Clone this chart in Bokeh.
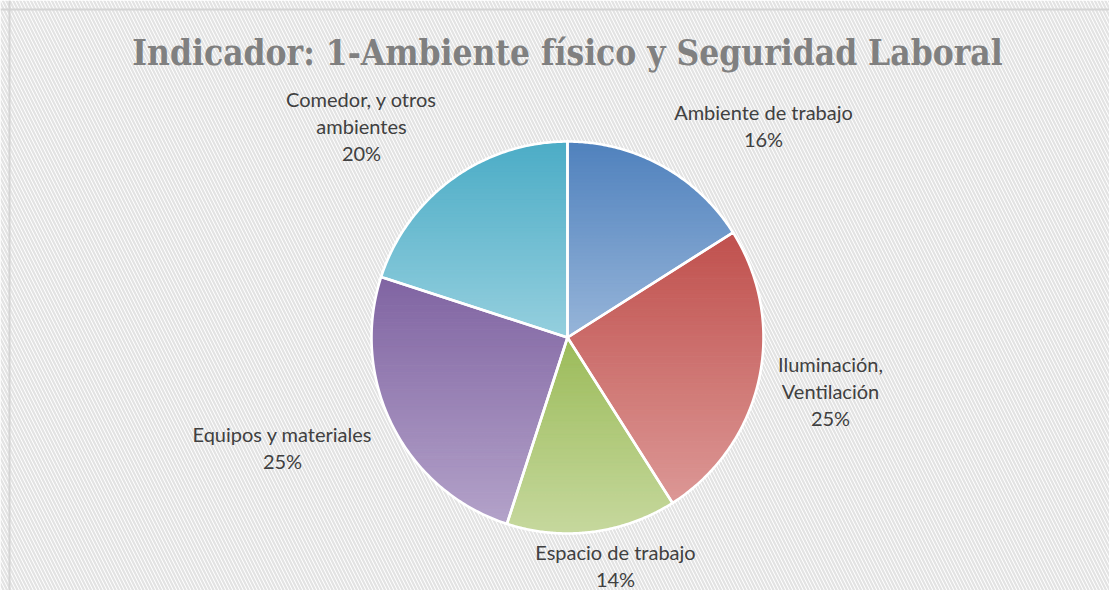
import numpy as np
from bokeh.plotting import figure
from bokeh.models import Range1d, Span
from bokeh.core.properties import value
from bokeh.embed import file_html
from bokeh.resources import INLINE

# ---- data ----
categories = ["Ambiente de trabajo", "Iluminación,\nVentilación", "Espacio de trabajo",
              "Equipos y materiales", "Comedor, y otros\nambientes"]
values = [16, 25, 14, 25, 20]
top_colors = ["#4F81BD", "#C0504D", "#9BBB59", "#8064A2", "#4BACC6"]
bottom_colors = ["#97B5D9", "#DC9896", "#C6D89D", "#B3A2C9", "#95CFDE"]
title_text = "Indicador: 1-Ambiente físico y Seguridad Laboral"

# ---- layout (screen pixel coordinates) ----
W, H = 1109, 590
cx, cy, R = 567.0, 337.0, 196.0
label_pos = [(763, 111), (830, 363), (615, 551), (282, 433), (361, 98)]
line_step = 27

p = figure(width=W, height=H, output_backend="svg", toolbar_location=None,
           x_range=Range1d(0, W), y_range=Range1d(H, 0),
           min_border=0, outline_line_color=None)
p.axis.visible = False
p.grid.visible = False
p.background_fill_color = "white"
p.border_fill_color = "white"

# hatched background
p.quad(left=[0], right=[W], top=[0], bottom=[H], fill_color="white",
       line_color=None, hatch_pattern="\\", hatch_color="#e3e3e3",
       hatch_scale=7, hatch_weight=2.2)

p.add_layout(Span(location=9, dimension="width", line_color="#d4d4d4", line_width=2))
p.add_layout(Span(location=9, dimension="height", line_color="#d4d4d4", line_width=2))


def hex2rgb(h):
    h = h.lstrip("#")
    return np.array([int(h[i:i + 2], 16) for i in (0, 2, 4)], dtype=float)


def rgb2hex(c):
    return "#%02x%02x%02x" % tuple(int(round(v)) for v in c)


def clip(poly, yv, keep_above):
    out = []
    n = len(poly)
    for i in range(n):
        a = poly[i]
        b = poly[(i + 1) % n]
        ina = (a[1] >= yv) if keep_above else (a[1] <= yv)
        inb = (b[1] >= yv) if keep_above else (b[1] <= yv)
        if ina:
            out.append(a)
        if ina != inb:
            t = (yv - a[1]) / (b[1] - a[1])
            out.append((a[0] + t * (b[0] - a[0]), yv))
    return out


total = float(sum(values))
fr = np.cumsum([0] + values) / total
band_xs, band_ys, band_cols = [], [], []
outline_xs, outline_ys = [], []
NB = 70
for i, v in enumerate(values):
    a0, a1 = 2 * np.pi * fr[i], 2 * np.pi * fr[i + 1]
    t = np.linspace(a0, a1, 120)
    px = cx + R * np.sin(t)
    py = cy - R * np.cos(t)
    poly = [(cx, cy)] + list(zip(px, py))
    outline_xs.append([q[0] for q in poly])
    outline_ys.append([q[1] for q in poly])
    ymin = min(q[1] for q in poly)
    ymax = max(q[1] for q in poly)
    c0, c1 = hex2rgb(top_colors[i]), hex2rgb(bottom_colors[i])
    h = (ymax - ymin) / NB
    for k in range(NB):
        y0 = ymin + k * h
        y1 = y0 + h
        sub = clip(clip(poly, y0, True), y1, False)
        if len(sub) < 3:
            continue
        f = (k + 0.5) / NB
        band_xs.append([q[0] for q in sub])
        band_ys.append([q[1] for q in sub])
        band_cols.append(rgb2hex(c0 + (c1 - c0) * f))

p.patches(band_xs, band_ys, fill_color=band_cols, line_color=band_cols, line_width=1)
p.patches(outline_xs, outline_ys, fill_color=None, line_color="white", line_width=2.6,
          line_join="miter")

# labels
lx, ly, lt = [], [], []
for i, cat in enumerate(categories):
    lines = cat.split("\n") + [f"{values[i]}%"]
    x0, y0 = label_pos[i]
    for j, s in enumerate(lines):
        lx.append(x0)
        ly.append(y0 + j * line_step)
        lt.append(s)
p.text(lx, ly, text=lt, text_font=value("Lato"), text_font_size="20px",
       text_color="#404040", text_align="center", text_baseline="middle")

p.text([567], [52], text=[title_text], text_font=value("DejaVu Serif Condensed"),
       text_font_style="bold", text_font_size="35px", text_color="#808080",
       text_align="center", text_baseline="middle")

open("out.html", "w").write(file_html(p, INLINE))
